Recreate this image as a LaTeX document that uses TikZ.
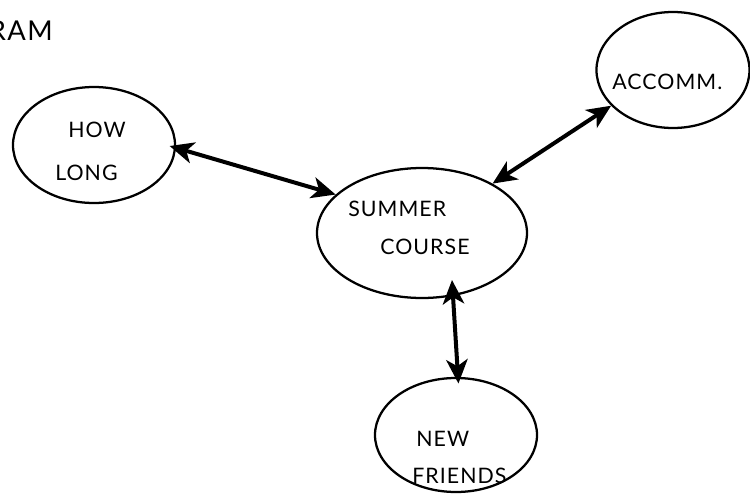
\documentclass[tikz,border=0pt]{standalone}
\usepackage{fontspec}
\setmainfont{Lato}[LetterSpace=5]
\usetikzlibrary{arrows.meta,shapes.geometric}
\begin{document}
\begin{tikzpicture}[x=0.75pt,y=-0.75pt,
  ell/.style={draw, ellipse, line width=1.7pt, inner sep=0pt},
  txt/.style={anchor=base west, inner sep=0pt, font=\fontsize{16}{19}\selectfont},
  link/.style={line width=3pt, {Stealth[length=18pt,width=16pt,inset=5pt]}-{Stealth[length=18pt,width=16pt,inset=5pt]}}]
\useasboundingbox (0,0) rectangle (750,493);
% title (cut off at the left edge)
\node[anchor=base east, inner sep=0pt, font=\fontsize{20.5}{24}\selectfont] (title) at (53,40) {RAM};
% ellipses
\node[ell, minimum width=121.5pt, minimum height=87pt] (hl) at (94,145) {};
\node[ell, minimum width=157.5pt, minimum height=97.5pt] (sc) at (422,233) {};
\node[ell, minimum width=114.75pt, minimum height=87pt] (ac) at (673,70) {};
\node[ell, minimum width=121.5pt, minimum height=85.5pt] (nf) at (456,435) {};
% texts
\node[txt] (t1) at (68,137) {HOW};
\node[txt] (t2) at (55,180) {LONG};
\node[txt] (t3) at (348,216) {SUMMER};
\node[txt] (t4) at (380,254) {COURSE};
\node[txt] (t5) at (612,89) {ACCOMM.};
\node[txt] (t6) at (416,446) {NEW};
\node[txt] (t7) at (412,483) {FRIENDS};
% connectors
\draw[link, shorten <=-5pt] (hl.-2) -- (sc.156);
\draw[link] (sc.35) -- (ac.210);
\draw[link, shorten >=-5pt] ([shift={(30,47)}]sc.center) -- (nf.88);
\end{tikzpicture}
\end{document}
